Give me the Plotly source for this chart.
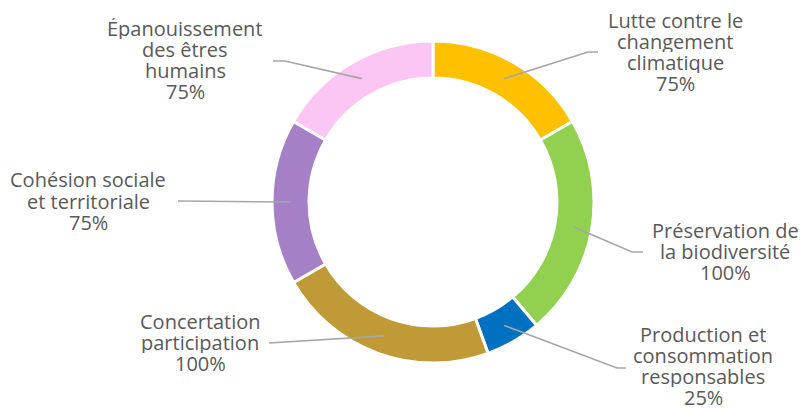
import math
import plotly.graph_objects as go

labels = [["Lutte contre le", "changement", "climatique"],
          ["Préservation de", "la biodiversité"],
          ["Production et", "consommation", "responsables"],
          ["Concertation", "participation"],
          ["Cohésion sociale", "et territoriale"],
          ["Épanouissement", "des êtres", "humains"]]
values = [75, 100, 25, 100, 75, 75]
colors = ["#FFC000", "#92D050", "#0070C0", "#BF9A37", "#A680C6", "#FBC6F3"]

W, H = 802, 410
CX, CY, R = 433, 202, 161
LINE = 21.3

# label block: center x and first baseline (px); leader-line elbow / end (px)
label_pos = [(675, 27), (725, 237), (703, 341), (200, 328), (88, 187), (185, 35)]
elbows = [(588, 52), (632, 252), (617, 368), None, None, (285, 61)]
ends = [(598, 52), (643, 252), (626, 368), (269, 343), (178, 201), (273, 61)]

fig = go.Figure(go.Pie(
    labels=[" ".join(l) for l in labels],
    values=values,
    hole=0.77,
    sort=False,
    direction="clockwise",
    rotation=0,
    marker=dict(colors=colors, line=dict(color="white", width=3)),
    textinfo="none",
    hoverinfo="label+value",
    showlegend=False,
    domain=dict(x=[(CX - R) / W, (CX + R) / W], y=[1 - (CY + R) / H, 1 - (CY - R) / H]),
))

def px(x, y):
    return x / W, 1 - y / H

total = sum(values)
cum = 0
shapes = []
annotations = []
for i, v in enumerate(values):
    mid = (cum + v / 2) / total * 2 * math.pi
    cum += v
    rr = R * 0.885
    sx = CX + rr * math.sin(mid)
    sy = CY - rr * math.cos(mid)
    pts = [(sx, sy)]
    if elbows[i]:
        pts.append(elbows[i])
    pts.append(ends[i])
    path = "M " + " L ".join("%f,%f" % px(*p) for p in pts)
    shapes.append(dict(type="path", path=path, xref="paper", yref="paper",
                       line=dict(color="#A6A6A6", width=1.6)))
    lines = labels[i] + ["%d%%" % v]
    bx, by = label_pos[i]
    for k, t in enumerate(lines):
        lx, ly = px(bx, by + k * LINE - 7)
        annotations.append(dict(x=lx, y=ly, xref="paper", yref="paper",
                                text=t, showarrow=False, height=21,
                                xanchor="center", yanchor="middle", valign="middle",
                                font=dict(family="Open Sans", size=20, color="#595959")))

fig.update_layout(width=W, height=H, margin=dict(l=0, r=0, t=0, b=0),
                  paper_bgcolor="white", plot_bgcolor="white",
                  shapes=shapes, annotations=annotations)
fig.write_html("out.html", config={"displayModeBar": False},
               post_script="document.body.style.margin='0';")
